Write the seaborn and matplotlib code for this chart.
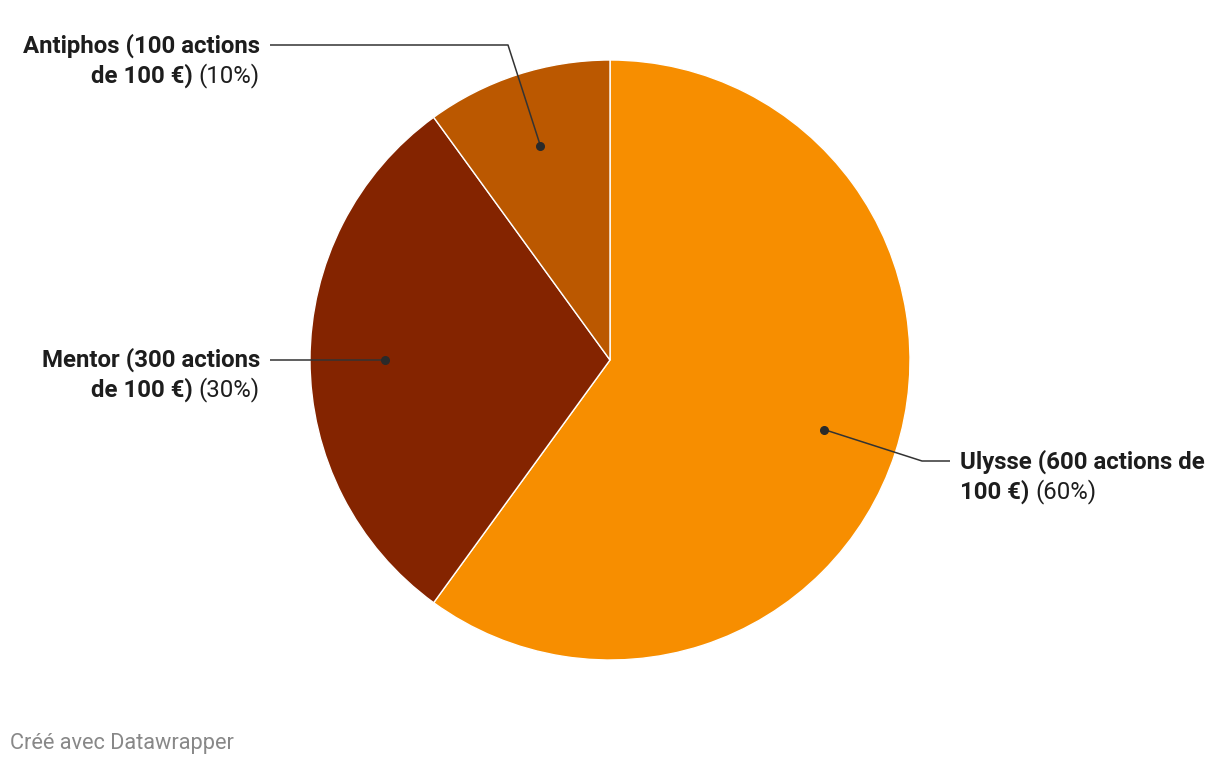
import numpy as np
import matplotlib
matplotlib.use("Agg")
import matplotlib.pyplot as plt
import seaborn as sns

# data
names = ["Ulysse", "Mentor", "Antiphos"]
shares = [60, 30, 10]
bold_lines = [["Ulysse (600 actions de", "100 €)"],
              ["Mentor (300 actions", "de 100 €)"],
              ["Antiphos (100 actions", "de 100 €)"]]
pct_labels = ["(60%)", "(30%)", "(10%)"]
colors = ["#F78E00", "#842400", "#BB5800"]

sns.set_theme(style="white")
plt.rcParams["font.family"] = ["Roboto", "DejaVu Sans"]

W, H = 1220, 766
fig = plt.figure(figsize=(W / 100, H / 100), dpi=100)
ax = fig.add_axes([0, 0, 1, 1])
ax.set_xlim(0, W)
ax.set_ylim(H, 0)
ax.axis("off")

cx, cy, R = 610, 360, 300
# y axis is inverted, so counterclock=True draws clockwise on screen
wedges, _ = ax.pie(shares, colors=colors, startangle=-90, counterclock=True,
                   center=(cx, cy), radius=R, frame=True,
                   wedgeprops=dict(edgecolor="white", linewidth=1))
ax.set_xlim(0, W)
ax.set_ylim(H, 0)
ax.axis("off")

txt_col = "#1d1d1d"
line_col = "#333333"
fs = 17.3

fig.canvas.draw()
renderer = fig.canvas.get_renderer()
inv = ax.transData.inverted()


def text_width(s, weight):
    t = ax.text(0, 0, s, fontsize=fs, fontweight=weight)
    bb = t.get_window_extent(renderer)
    t.remove()
    p0 = inv.transform((bb.x0, bb.y0))
    p1 = inv.transform((bb.x1, bb.y0))
    return p1[0] - p0[0]


# label layout: (text x, first line y, align, leader path after dot)
layout = {
    "Ulysse": dict(x=960, y=462, ha="left", path=[(922, 461), (950, 461)]),
    "Mentor": dict(x=260, y=360, ha="right", path=[(270, 360)]),
    "Antiphos": dict(x=260, y=46, ha="right", path=[(508, 45), (270, 45)]),
}
gap = 30
space = text_width("a a", "normal") - 2 * text_width("a", "normal")

for w, name, bl, pl in zip(wedges, names, bold_lines, pct_labels):
    mid = np.deg2rad((w.theta1 + w.theta2) / 2)
    dx = cx + 0.75 * R * np.cos(mid)
    dy = cy + 0.75 * R * np.sin(mid)
    lay = layout[name]
    xs = [dx] + [p[0] for p in lay["path"]]
    ys = [dy] + [p[1] for p in lay["path"]]
    ax.plot(xs, ys, color=line_col, lw=1.1, solid_capstyle="butt")
    ax.plot(dx, dy, "o", color="#2a2a2a", ms=5.5)

    x0, y0 = lay["x"], lay["y"]
    ax.text(x0, y0, bl[0], fontsize=fs, fontweight="bold", color=txt_col,
            ha=lay["ha"], va="center")
    y1 = y0 + gap
    if lay["ha"] == "right":
        ax.text(x0, y1, pl, fontsize=fs, color=txt_col, ha="right", va="center")
        off = text_width(pl, "normal") + space
        ax.text(x0 - off, y1, bl[1], fontsize=fs, fontweight="bold",
                color=txt_col, ha="right", va="center")
    else:
        ax.text(x0, y1, bl[1], fontsize=fs, fontweight="bold", color=txt_col,
                ha="left", va="center")
        off = text_width(bl[1], "bold") + space
        ax.text(x0 + off, y1, pl, fontsize=fs, color=txt_col, ha="left",
                va="center")

ax.text(10, 743, "Créé avec Datawrapper", fontsize=15.7, color="#888888",
        ha="left", va="center")

fig.savefig("out.png", dpi=100)
